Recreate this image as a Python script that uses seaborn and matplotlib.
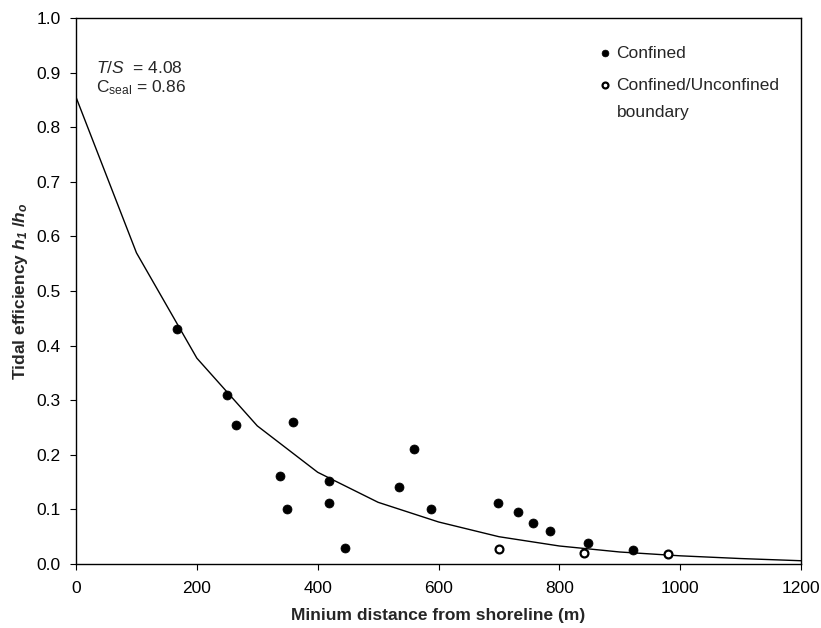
import matplotlib
matplotlib.use("Agg")
import matplotlib.pyplot as plt
import seaborn as sns
import pandas as pd

# Data
confined_x = [167, 250, 264, 338, 349, 359, 418, 418, 446, 535, 559, 587, 699, 731, 756, 784, 847, 922]
confined_y = [0.43, 0.31, 0.255, 0.162, 0.101, 0.261, 0.152, 0.112, 0.029, 0.141, 0.211, 0.100,
              0.112, 0.096, 0.076, 0.060, 0.038, 0.025]
boundary_x = [700, 840, 979]
boundary_y = [0.027, 0.021, 0.018]
curve_x = [0, 100, 200, 300, 400, 500, 600, 700, 800, 900, 1000, 1100, 1200]
curve_y = [0.855, 0.57, 0.377, 0.253, 0.168, 0.113, 0.077, 0.050, 0.033, 0.022, 0.015, 0.010, 0.006]
x_ticks = [0, 200, 400, 600, 800, 1000, 1200]
y_ticks = [0.0, 0.1, 0.2, 0.3, 0.4, 0.5, 0.6, 0.7, 0.8, 0.9, 1.0]

sns.set_theme(style="ticks")
plt.rcParams['font.family'] = ['Liberation Sans', 'DejaVu Sans']
plt.rcParams['mathtext.fontset'] = 'custom'
plt.rcParams['mathtext.rm'] = 'Liberation Sans'
plt.rcParams['mathtext.it'] = 'Liberation Sans:italic'
plt.rcParams['mathtext.bf'] = 'Liberation Sans:bold:italic'

FS = 12.5

fig = plt.figure(figsize=(8.21, 6.28), dpi=100)
ax = fig.add_axes([0.0926, 0.1019, 0.8831, 0.8694])

df_c = pd.DataFrame({"x": confined_x, "y": confined_y})
df_b = pd.DataFrame({"x": boundary_x, "y": boundary_y})
df_curve = pd.DataFrame({"x": curve_x, "y": curve_y})

sns.lineplot(data=df_curve, x="x", y="y", ax=ax, color="black", linewidth=1.0, legend=False)
sns.scatterplot(data=df_c, x="x", y="y", ax=ax, color="black", edgecolor="black",
                s=42, marker="o", label="Confined", zorder=3)
sns.scatterplot(data=df_b, x="x", y="y", ax=ax, facecolor="white", edgecolor="black",
                linewidth=1.6, s=32, marker="o", label="Confined/Unconfined", zorder=3)

ax.set_xlim(0, 1200)
ax.set_ylim(0, 1.0)
ax.set_xticks(x_ticks)
ax.set_xticklabels([str(v) for v in x_ticks])
ax.set_yticks(y_ticks)
ax.set_yticklabels([f"{v:.1f}" for v in y_ticks])
ax.tick_params(axis="both", direction="out", length=4, width=0.8, colors="black", labelsize=FS)
ax.tick_params(axis="x", pad=8)
ax.tick_params(axis="y", pad=7)
for s in ax.spines.values():
    s.set_visible(True)
    s.set_color("black")
    s.set_linewidth(1.0)

ax.set_xlabel("Minium distance from shoreline (m)", fontsize=FS, fontweight="bold", labelpad=9)
ax.set_ylabel(r"Tidal efficiency $\mathbf{h_1}$ /$\mathbf{h_o}$", fontsize=FS, fontweight="bold",
              labelpad=5)

ax.text(0.028, 0.908, r"$T/S$  = 4.08", transform=ax.transAxes, fontsize=FS, va="center")
ax.text(0.028, 0.873, r"C$_{\mathrm{seal}}$ = 0.86", transform=ax.transAxes, fontsize=FS, va="center")

leg = ax.legend(loc="upper left", bbox_to_anchor=(0.708, 0.962), frameon=False, fontsize=FS,
                handletextpad=0.15, labelspacing=0.95, handlelength=1.0, markerscale=0.75,
                borderaxespad=0)
# second line of the open-circle legend entry
ax.text(0.746, 0.827, "boundary", transform=ax.transAxes, fontsize=FS, va="center", ha="left")

fig.savefig("out.png", dpi=100)
